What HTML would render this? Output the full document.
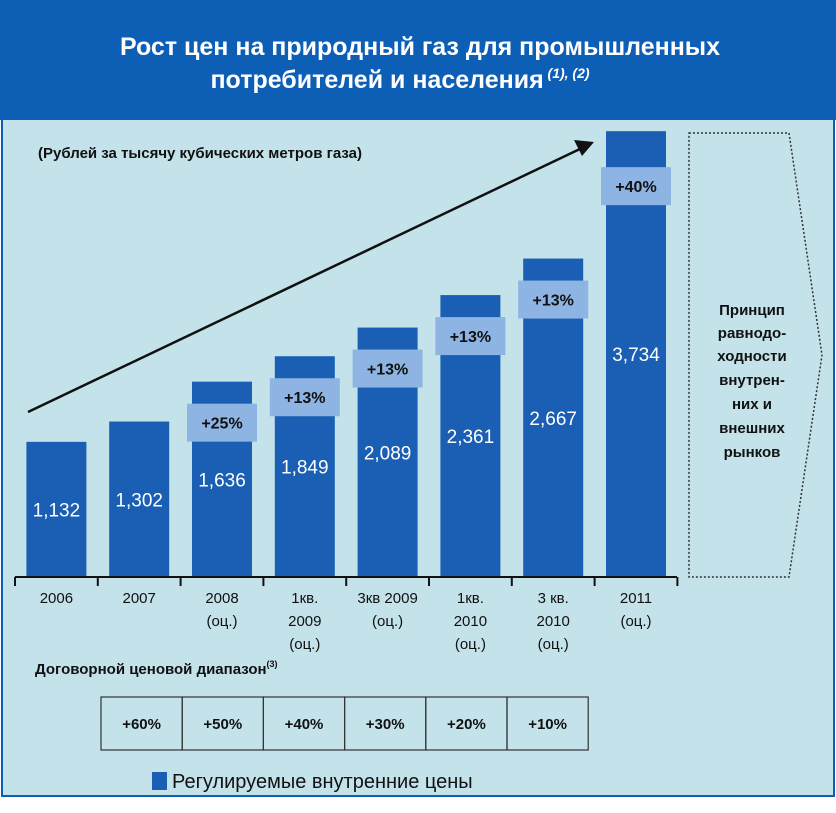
<!DOCTYPE html>
<html><head><meta charset="utf-8"><style>
body{margin:0;width:836px;height:808px;background:#fff;overflow:hidden}
svg text{font-family:"Liberation Sans",sans-serif}
</style></head><body>
<svg id="chart" width="836" height="808" viewBox="0 0 836 808" xmlns="http://www.w3.org/2000/svg">
<rect x="0" y="0" width="836" height="808" fill="#ffffff"/>
<rect x="2" y="118" width="832" height="678" fill="#c3e2ea" stroke="#0d5eb5" stroke-width="2"/>
<rect x="0" y="0" width="836" height="120" fill="#0d5eb5"/>
<text x="420" y="55" text-anchor="middle" fill="#fff" font-size="25" font-weight="bold">Рост цен на природный газ для промышленных</text>
<text x="400" y="88" text-anchor="middle" fill="#fff" font-size="25" font-weight="bold">потребителей и населения<tspan font-size="14" font-style="italic" dy="-10"> (1), (2)</tspan></text>
<text x="38" y="158" fill="#111" font-size="15" font-weight="bold">(Рублей за тысячу кубических метров газа)</text>
<g id="bars"></g>
<line x1="15" y1="577" x2="677" y2="577" stroke="#111" stroke-width="2"/>
<g id="ticks"></g>
<line x1="28" y1="412" x2="582" y2="148" stroke="#111" stroke-width="2.5"/>
<polygon points="594,142 574,140 582,156" fill="#111"/>
<polygon points="689,133 789,133 822,355 789,577 689,577" fill="none" stroke="#333" stroke-width="1.5" stroke-dasharray="2,2"/>
<g font-size="15" font-weight="bold" fill="#111" text-anchor="middle">
<text x="752" y="315">Принцип</text><text x="752" y="338">равнодо-</text><text x="752" y="361">ходности</text><text x="752" y="385">внутрен-</text><text x="752" y="409">них и</text><text x="752" y="433">внешних</text><text x="752" y="457">рынков</text>
</g>
<text x="35" y="674" fill="#111" font-size="15" font-weight="bold">Договорной ценовой диапазон<tspan font-size="9" dy="-7">(3)</tspan></text>
<g id="range"></g>
<rect x="152" y="772" width="15" height="18" fill="#1a5fb4"/>
<text x="172" y="788" fill="#111" font-size="20">Регулируемые внутренние цены</text>
</svg>
<script>
const categories=[["2006"],["2007"],["2008","(оц.)"],["1кв.","2009","(оц.)"],["3кв 2009","(оц.)"],["1кв.","2010","(оц.)"],["3 кв.","2010","(оц.)"],["2011","(оц.)"]];
const values=[1132,1302,1636,1849,2089,2361,2667,3734];
const valueLabels=["1,132","1,302","1,636","1,849","2,089","2,361","2,667","3,734"];
const growthLabels=["","","+25%","+13%","+13%","+13%","+13%","+40%"];
const rangeLabels=["+60%","+50%","+40%","+30%","+20%","+10%"];
const NS="http://www.w3.org/2000/svg";
const y0=577,x0=15,step=82.8,barW=60;
const yScale=v=>y0-v*0.1194;
const xCenter=i=>x0+step*(i+0.5);
function mk(tag,attrs,parent,text){const e=document.createElementNS(NS,tag);for(const k in attrs)e.setAttribute(k,attrs[k]);if(text!==undefined)e.textContent=text;parent.appendChild(e);return e;}
const bars=document.getElementById('bars'),ticks=document.getElementById('ticks'),range=document.getElementById('range');
values.forEach((v,i)=>{
  const cx=xCenter(i),top=yScale(v);
  const r=mk('rect',{x:cx-barW/2,y:top,width:barW,height:y0-top,fill:'#1a5fb4'},bars);
  
  
  const t=mk('text',{x:cx,y:(top+y0)/2+7,'text-anchor':'middle',fill:'#fff','font-size':19},bars,valueLabels[i]);
  
  
  if(growthLabels[i]){
    const off=i===values.length-1?36:22;
    const b=mk('rect',{x:cx-35,y:top+off,width:70,height:38,fill:'#8db4e2'},bars);
    
    
    const g=mk('text',{x:cx,y:top+off+25,'text-anchor':'middle',fill:'#111','font-size':16,'font-weight':'bold'},bars,growthLabels[i]);
    
    
  }
  categories[i].forEach((line,j)=>{
    const c=mk('text',{x:cx,y:603+j*23,'text-anchor':'middle',fill:'#111','font-size':15},ticks,line);
    
    
  });
});
for(let i=0;i<=values.length;i++){
  const l=mk('line',{x1:x0+step*i,y1:577,x2:x0+step*i,y2:586,stroke:'#111','stroke-width':2},ticks);
  
  
}
const cw=81.2;
rangeLabels.forEach((s,i)=>{
  const r=mk('rect',{x:101+i*cw,y:697,width:cw,height:53,fill:'none',stroke:'#333','stroke-width':1.2},range);
  
  
  const t=mk('text',{x:101+i*cw+cw/2,y:729,'text-anchor':'middle',fill:'#111','font-size':15,'font-weight':'bold'},range,s);
  
  
});
</script>
</body></html>
